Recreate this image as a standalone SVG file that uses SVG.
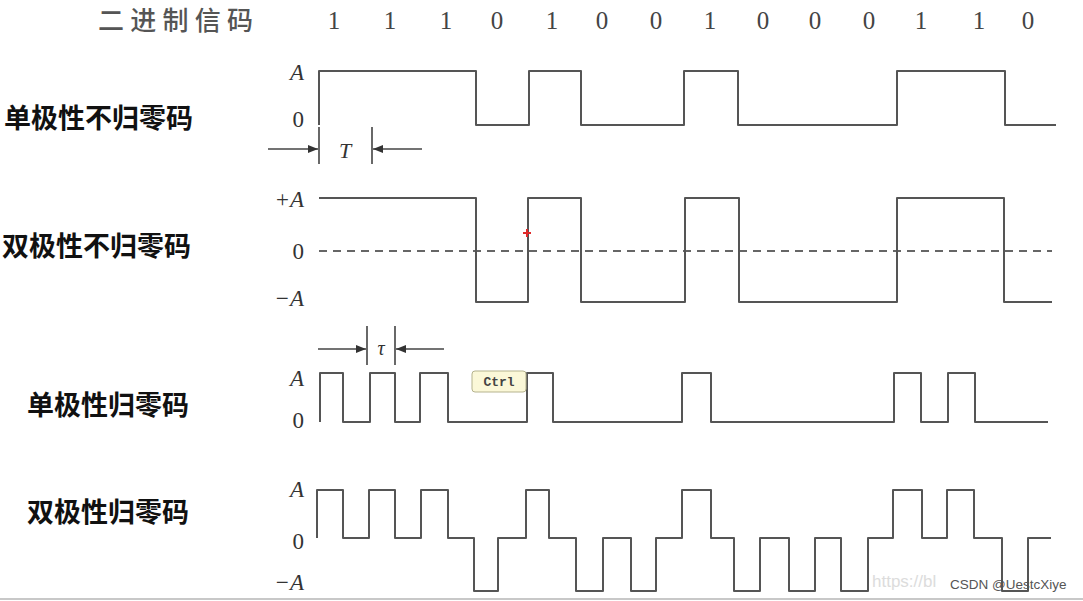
<svg xmlns="http://www.w3.org/2000/svg" width="1083" height="601" viewBox="0 0 1083 601">
  <style>
    .wave { fill: none; stroke: #555; stroke-width: 2; stroke-linejoin: round; }
    .dash { fill: none; stroke: #666; stroke-width: 2; stroke-dasharray: 8 6; }
    .lvl { font-family: "Liberation Serif", serif; font-style: italic; font-size: 23px; fill: #333; text-anchor: end; }
    .zero { font-family: "Liberation Serif", serif; font-size: 23px; fill: #333; text-anchor: end; }
    .name { font-family: "Noto Sans CJK SC", sans-serif; font-weight: bold; font-size: 27px; fill: #111; }
    .bit { font-family: "Liberation Serif", serif; font-size: 25px; fill: #444; text-anchor: middle; }
    .dim { fill: none; stroke: #444; stroke-width: 1.6; }
    .tick { fill: none; stroke: #444; stroke-width: 1.6; }
  </style>
  <defs>
    <marker id="ah" viewBox="0 0 10 8" refX="10" refY="4" markerWidth="10" markerHeight="8" markerUnits="userSpaceOnUse" orient="auto">
      <path d="M0,0 L10,4 L0,8 z" fill="#333"/>
    </marker>
  </defs>
  <rect width="1083" height="601" fill="#ffffff"/>

  <g id="header">
    <text x="98" y="30" font-family="Noto Sans CJK SC, sans-serif" font-weight="500" font-size="26" fill="#555" textLength="155" lengthAdjust="spacing">二进制信码</text>
    <text class="bit" x="334" y="29">1</text>
    <text class="bit" x="390" y="29">1</text>
    <text class="bit" x="446" y="29">1</text>
    <text class="bit" x="497" y="29">0</text>
    <text class="bit" x="552" y="29">1</text>
    <text class="bit" x="602" y="29">0</text>
    <text class="bit" x="656" y="29">0</text>
    <text class="bit" x="710" y="29">1</text>
    <text class="bit" x="763" y="29">0</text>
    <text class="bit" x="815" y="29">0</text>
    <text class="bit" x="869" y="29">0</text>
    <text class="bit" x="921" y="29">1</text>
    <text class="bit" x="979" y="29">1</text>
    <text class="bit" x="1028" y="29">0</text>
  </g>

  <g id="unipolar-nrz">
    <text class="name" x="4" y="128">单极性不归零码</text>
    <text class="lvl" x="304" y="80">A</text>
    <text class="zero" x="304" y="127">0</text>
    <path class="wave" d="M319,125 V71 H476 V125 H529 V71 H581 V125 H684 V71 H738 V125 H897 V71 H1005 V125 H1056"/>
  </g>

  <g id="bipolar-nrz">
    <text class="name" x="2" y="256">双极性不归零码</text>
    <text class="lvl" x="304" y="207">+A</text>
    <text class="zero" x="304" y="259">0</text>
    <text class="lvl" x="304" y="306">−A</text>
    <path class="dash" d="M319,251 H1052"/>
    <path class="wave" d="M319,198 H476 V302 H528 V198 H581 V302 H685 V198 H739 V302 H897 V198 H1004 V302 H1052"/>
    <path d="M527,229 V237 M523,233 H531" stroke="#e02a2a" stroke-width="2"/>
  </g>

  <g id="unipolar-rz">
    <text class="name" x="27" y="415">单极性归零码</text>
    <text class="lvl" x="304" y="386">A</text>
    <text class="zero" x="304" y="428">0</text>
    <path class="wave" d="M320,422 V373 H343 V422 H370 V373 H395 V422 H420 V373 H448 V422 H527 V373 H553 V422 H682 V373 H711 V422 H894 V373 H921 V422 H948 V373 H975 V422 H1048"/>
  </g>

  <g id="bipolar-rz">
    <text class="name" x="27" y="522">双极性归零码</text>
    <text class="lvl" x="304" y="497">A</text>
    <text class="zero" x="304" y="549">0</text>
    <text class="lvl" x="304" y="590">−A</text>
    <path class="wave" d="M317,538 V490 H343 V538 H369 V490 H395 V538 H421 V490 H448 V538 H474 V591 H498 V538 H526 V490 H549 V538 H576 V591 H603 V538 H631 V591 H656 V538 H682 V490 H711 V538 H734 V591 H760 V538 H789 V591 H815 V538 H841 V591 H868 V538 H893 V490 H922 V538 H947 V490 H974 V538 H1002 V591 H1028 V538 H1051"/>
  </g>

  <g id="connectors">
    <path class="tick" d="M319,127 V164 M372,127 V164"/>
    <path class="dim" d="M268,149 H318" marker-end="url(#ah)"/>
    <path class="dim" d="M422,149 H373" marker-end="url(#ah)"/>
    <path class="tick" d="M367,326 V365 M395,326 V365"/>
    <path class="dim" d="M318,349 H366" marker-end="url(#ah)"/>
    <path class="dim" d="M444,349 H396" marker-end="url(#ah)"/>
  </g>

  <g id="dim-labels">
    <text x="345" y="158" font-family="Liberation Serif, serif" font-style="italic" font-size="22" fill="#333" text-anchor="middle">T</text>
    <text x="381" y="355" font-family="Liberation Serif, serif" font-style="italic" font-size="20" fill="#333" text-anchor="middle">τ</text>
  </g>

  <g id="ctrl-tooltip">
    <rect x="472" y="371" width="54" height="21" rx="3" fill="#fbf8d8" stroke="#b5b38e" stroke-width="1"/>
    <text x="499" y="386" font-family="Liberation Mono, monospace" font-size="13" font-weight="bold" fill="#444" text-anchor="middle">Ctrl</text>
  </g>

  <g id="watermark">
    <text x="872" y="587" font-family="Liberation Sans, sans-serif" font-size="17" fill="#d4d4d4" opacity="0.8">https://bl</text>
    <text x="950" y="589" font-family="Liberation Sans, sans-serif" font-size="13.5" fill="#555">CSDN @UestcXiye</text>
  </g>
  <path d="M0,599 H1083" stroke="#c8c8c8" stroke-width="2"/>
</svg>
